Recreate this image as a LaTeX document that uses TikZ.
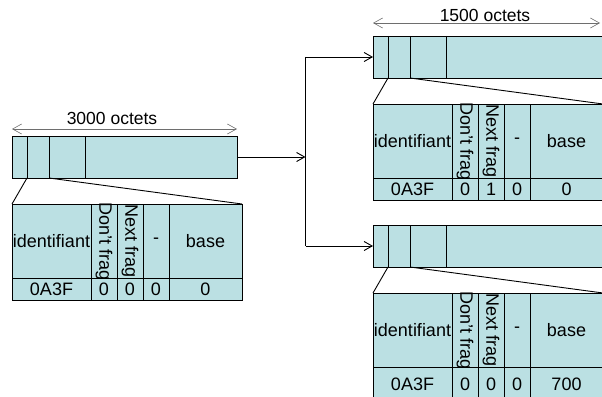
\documentclass[tikz,border=0pt]{standalone}
\usepackage{fontspec}
\setmainfont{Liberation Sans}
\usetikzlibrary{arrows.meta}
\definecolor{pktfill}{RGB}{187,224,227}
\definecolor{dimgray}{RGB}{110,110,110}
\tikzset{
  bar/.style={draw=black, fill=pktfill, line width=0.9pt, inner sep=0pt, outer sep=0pt, anchor=north west},
  cell/.style={draw=black, fill=pktfill, line width=0.9pt, inner sep=0pt, outer sep=0pt, font=\fontsize{18}{20}\selectfont},
  divline/.style={line width=0.9pt},
  slant/.style={line width=0.9pt},
  dimarrow/.style={draw=dimgray, line width=0.6pt, {Straight Barb[length=9pt,width=10pt]}-{Straight Barb[length=9pt,width=10pt]}},
  dimlabel/.style={font=\fontsize{17.5}{20}\selectfont, inner sep=0pt},
  flow/.style={line width=0.9pt, -{Straight Barb[length=8pt,width=9pt]}},
  flowline/.style={line width=0.9pt},
}
% #1 name, #2 x, #3 y, #4 bar width, #5 next frag, #6 base, #7 row height
\newcommand\drawpacket[7]{%
\begin{scope}[shift={(#2,#3)}]
  \node[bar, minimum width=#4pt, minimum height=42pt] (#1-bar) at (0,0) {};
  \coordinate (#1-d1t) at (15,0);  \coordinate (#1-d1b) at (15,42);
  \coordinate (#1-d2t) at (37,0);  \coordinate (#1-d2b) at (37,42);
  \coordinate (#1-d3t) at (73,0);  \coordinate (#1-d3b) at (73,42);
  \draw[divline] (#1-d1t) -- (#1-d1b);
  \draw[divline] (#1-d2t) -- (#1-d2b);
  \draw[divline] (#1-d3t) -- (#1-d3b);
  \node[cell, minimum width=79pt, minimum height=74pt] (#1-id) at (39.5,105) {identifiant};
  \node[cell, minimum width=26pt, minimum height=74pt] (#1-dfbox) at (92,105) {};
  \node[cell, draw=none, fill=none, rotate=-90] (#1-df) at (92,105.5) {Don't frag};
  \node[cell, minimum width=26pt, minimum height=74pt] (#1-nfbox) at (118,105) {};
  \node[cell, draw=none, fill=none, rotate=-90] (#1-nf) at (118,105) {Next frag};
  \node[cell, minimum width=26pt, minimum height=74pt] (#1-dash) at (144,105) {-};
  \node[cell, minimum width=73pt, minimum height=74pt] (#1-base) at (193.5,105) {base};
  \node[cell, minimum width=79pt, minimum height=#7pt] (#1-vid) at (39.5,142+#7/2) {0A3F};
  \node[cell, minimum width=26pt, minimum height=#7pt] (#1-vdf) at (92,142+#7/2) {0};
  \node[cell, minimum width=26pt, minimum height=#7pt] (#1-vnf) at (118,142+#7/2) {#5};
  \node[cell, minimum width=26pt, minimum height=#7pt] (#1-vdash) at (144,142+#7/2) {0};
  \node[cell, minimum width=73pt, minimum height=#7pt] (#1-vbase) at (193.5,142+#7/2) {#6};
  \coordinate (#1-tl) at (0,68);
  \coordinate (#1-tr) at (230,68);
  \draw[slant] (#1-d1b) -- (#1-tl);
  \draw[slant] (#1-d2b) -- (#1-tr);
\end{scope}}

\begin{document}
\begin{tikzpicture}[x=1pt, y=-1pt]
  \useasboundingbox (0,0) rectangle (602,396);
  \clip (0,0) rectangle (602,396);

  \drawpacket{L}{12}{136}{225}{0}{0}{22}
  \drawpacket{T}{373}{36}{232}{1}{0}{22}
  \drawpacket{B}{373}{225}{232}{0}{700}{34}

  % size annotations
  \coordinate (La) at (12,129);
  \coordinate (Lb) at (237,129);
  \draw[dimarrow] (La) -- (Lb);
  \node[dimlabel] (Llab) at (112,118) {3000 octets};

  \coordinate (Ta) at (373,23);
  \coordinate (Tb) at (600,23);
  \draw[dimarrow] (Ta) -- (Tb);
  \node[dimlabel] (Tlab) at (485,15) {1500 octets};

  % fragmentation connectors
  \coordinate (split) at (305.5,157);
  \coordinate (splittop) at (305.5,57);
  \coordinate (splitbot) at (305.5,246);
  \draw[flow] (L-bar.east) -- (split);
  \draw[flowline] (splittop) -- (splitbot);
  \draw[flow] (splittop) -- (T-bar.west);
  \draw[flow] (splitbot) -- (B-bar.west);
\end{tikzpicture}
\end{document}
